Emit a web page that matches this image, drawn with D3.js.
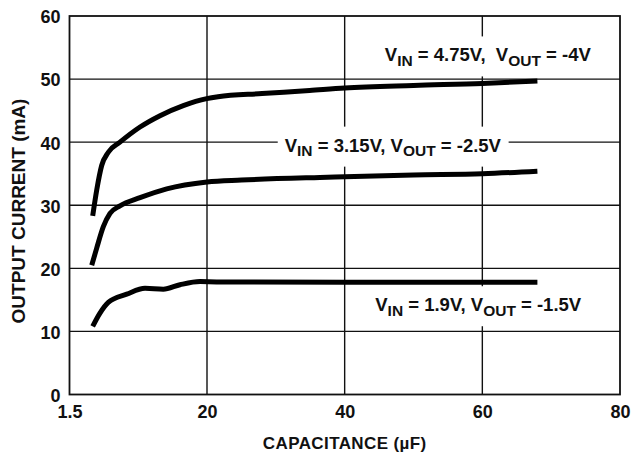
<!DOCTYPE html>
<html>
<head>
<meta charset="utf-8">
<script src="https://cdn.jsdelivr.net/npm/d3@7/dist/d3.min.js"></script>
<style>
  html, body { margin: 0; padding: 0; background: #fff; }
  svg { display: block; font-family: "Liberation Sans", Arial, Helvetica, sans-serif; font-weight: bold; }
  .lbl { white-space: pre; }
</style>
</head>
<body>
<svg id="chart" width="632" height="455"></svg>
<script>
// Output current vs. flying capacitance, three supply/output conditions
const xTicks = [1.5, 20, 40, 60, 80];
const xTickLabels = ["1.5", "20", "40", "60", "80"];
const yTicks = [0, 10, 20, 30, 40, 50, 60];
const yTickLabels = ["0", "10", "20", "30", "40", "50", "60"];

// VIN = 4.75V, VOUT = -4V
const capA = [4.62, 5.16, 5.83, 6.72, 8.29, 10.99, 13.68, 16.81, 19.96, 21.6, 28, 34.9, 40, 50, 60, 68];
const curA = [28.3, 32.4, 36.3, 38.4, 40.0, 42.4, 44.2, 45.8, 46.9, 47.2, 47.7, 48.2, 48.6, 49.0, 49.3, 49.7];
// VIN = 3.15V, VOUT = -2.5V
const capB = [4.49, 5.16, 6.05, 6.95, 8.29, 10.99, 14.58, 20, 25, 36.4, 40, 50, 60, 68];
const curB = [20.5, 23.2, 26.6, 28.7, 29.9, 31.2, 32.6, 33.7, 34.0, 34.4, 34.5, 34.8, 35.0, 35.4];
// VIN = 1.9V, VOUT = -1.5V
const capC = [4.62, 5.6, 6.72, 9.2, 11.66, 14.12, 16.37, 19.06, 21.4, 40, 68];
const curC = [10.8, 12.9, 14.6, 15.9, 16.85, 16.7, 17.4, 17.9, 17.85, 17.8, 17.8];

const seriesLabels = [
  { parts: [["V", 0], ["IN", 1], [" = 4.75V,  V", 0], ["OUT", 1], [" = -4V", 0]], cx: 60.8, cy: 52.8 },
  { parts: [["V", 0], ["IN", 1], [" = 3.15V, V", 0], ["OUT", 1], [" = -2.5V", 0]], cx: 47.0, cy: 38.5 },
  { parts: [["V", 0], ["IN", 1], [" = 1.9V, V", 0], ["OUT", 1], [" = -1.5V", 0]], cx: 59.4, cy: 13.2 }
];

const svg = d3.select("#chart");
const plotL = 69.5, plotR = 620, plotT = 16, plotB = 394.5;

// the capacitance axis is stretched between 1.5 and 20
const x = d3.scaleLinear().domain([1.5, 20, 80]).range([plotL, plotL + 137.5, plotR]);
const y = d3.scaleLinear().domain([0, 60]).range([plotB, plotT]);

// grid
const grid = svg.append("g");
grid.selectAll("line.v").data(xTicks.slice(1, -1)).join("line").attr("class", "v")
  .attr("x1", d => x(d)).attr("x2", d => x(d)).attr("y1", plotT).attr("y2", plotB)
  .attr("stroke", "#111").attr("stroke-width", 1.4);
grid.selectAll("line.h").data(yTicks.slice(1, -1)).join("line").attr("class", "h")
  .attr("x1", plotL).attr("x2", plotR).attr("y1", d => y(d)).attr("y2", d => y(d))
  .attr("stroke", "#111").attr("stroke-width", 1.4);

// label backgrounds (filled after text is measured)
const boxLayer = svg.append("g");

// frame
svg.append("rect").attr("x", plotL).attr("y", plotT).attr("width", plotR - plotL).attr("height", plotB - plotT)
  .attr("fill", "none").attr("stroke", "#111").attr("stroke-width", 1.8);

// axes (labels only)
const xAxis = svg.append("g").attr("transform", `translate(0,${plotB})`)
  .call(d3.axisBottom(x).tickValues(xTicks).tickFormat((d, i) => xTickLabels[i]).tickSize(0).tickPadding(10.5));
const yAxis = svg.append("g").attr("transform", `translate(${plotL},0)`)
  .call(d3.axisLeft(y).tickValues(yTicks).tickFormat((d, i) => yTickLabels[i]).tickSize(0).tickPadding(9));
[xAxis, yAxis].forEach(g => {
  g.select(".domain").remove();
  g.selectAll("text").attr("font-size", 18).attr("font-weight", "bold")
    .attr("font-family", "'Liberation Sans', Arial, sans-serif").attr("fill", "#111");
});
yAxis.selectAll("text").attr("dy", "0.38em");

// curves
const line = d3.line().x(d => x(d[0])).y(d => y(d[1])).curve(d3.curveMonotoneX);
[[capA, curA], [capB, curB], [capC, curC]].forEach(([cs, is]) => {
  svg.append("path").datum(cs.map((c, i) => [c, is[i]]))
    .attr("d", line).attr("fill", "none").attr("stroke", "#000")
    .attr("stroke-width", 5).attr("stroke-linecap", "butt").attr("stroke-linejoin", "round");
});

// series labels with subscripts
seriesLabels.forEach(s => {
  const t = svg.append("text").attr("class", "lbl")
    .attr("x", x(s.cx)).attr("y", y(s.cy)).attr("text-anchor", "middle")
    .attr("font-size", 18.5).attr("fill", "#111");
  let low = false;
  s.parts.forEach(([txt, sub]) => {
    const ts = t.append("tspan").text(txt);
    if (sub && !low) { ts.attr("dy", 4.5).attr("font-size", 15.5); low = true; }
    else if (!sub && low) { ts.attr("dy", -4.5); low = false; }
    else if (sub) ts.attr("font-size", 15.5);
  });
  const bb = t.node().getBBox();
  const base = y(s.cy);
  boxLayer.append("rect").attr("x", bb.x - 7).attr("y", base - 25)
    .attr("width", bb.width + 14).attr("height", 40).attr("fill", "#fff");
});

// titles
svg.append("text").attr("x", (plotL + plotR) / 2).attr("y", 449).attr("text-anchor", "middle")
  .attr("font-size", 17).attr("letter-spacing", 0.4).attr("fill", "#111").text("CAPACITANCE (µF)");
svg.append("text").attr("transform", "translate(25,211) rotate(-90)").attr("text-anchor", "middle")
  .attr("font-size", 19).attr("fill", "#111").text("OUTPUT CURRENT (mA)");
</script>
</body>
</html>
